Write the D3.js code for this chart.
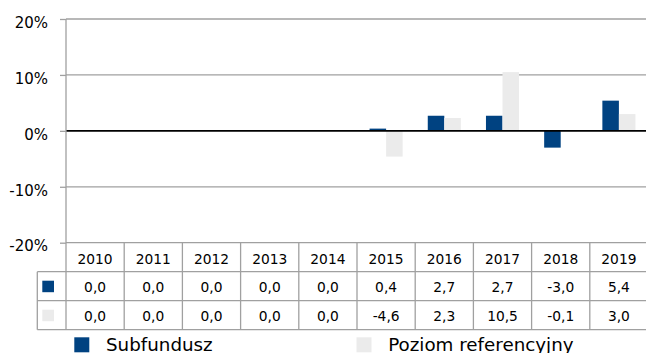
<!DOCTYPE html>
<html>
<head>
<meta charset="utf-8">
<script src="https://cdn.jsdelivr.net/npm/d3@7/dist/d3.min.js"></script>
<style>
  html, body { margin: 0; padding: 0; background: #fff; }
  svg { display: block; }
  text { font-family: "DejaVu Sans", sans-serif; fill: #000; }
</style>
</head>
<body>
<svg id="chart" width="646" height="353"></svg>
<script>
// Annual returns (%) by year
const years = ["2010", "2011", "2012", "2013", "2014", "2015", "2016", "2017", "2018", "2019"];
const subfundusz = [0.0, 0.0, 0.0, 0.0, 0.0, 0.4, 2.7, 2.7, -3.0, 5.4];
const poziom = [0.0, 0.0, 0.0, 0.0, 0.0, -4.6, 2.3, 10.5, -0.1, 3.0];
const seriesNames = ["Subfundusz", "Poziom referencyjny"];
const seriesColors = ["#004281", "#ebebeb"];
const yTicks = [-20, -10, 0, 10, 20];

const series = [subfundusz, poziom];
const svg = d3.select("#chart");

const plotLeft = 66, plotRight = 648, plotTop = 19, plotBottom = 242.7;
const rowH = 29;
const tableLeft = 37.3;
const gridColor = "#a0a0a0";
// Polish decimal comma, plain hyphen for negatives
const fmt = v => v.toFixed(1).replace(".", ",");

const x = d3.scaleBand().domain(years).range([plotLeft, plotRight]).padding(0);
const xs = d3.scaleBand().domain(seriesNames).range([0, x.bandwidth()])
  .paddingInner(0).paddingOuter(0.76);
const y = d3.scaleLinear().domain([-20, 20]).range([plotBottom, plotTop]);

// gridlines + y axis labels
const yAxis = d3.axisLeft(y).tickValues(yTicks).tickSize(6).tickPadding(12)
  .tickFormat(d => d + "%");
const gy = svg.append("g").attr("transform", `translate(${plotLeft},0)`).call(yAxis);
gy.select(".domain").remove();
gy.selectAll(".tick line").attr("stroke", gridColor).attr("stroke-width", 1.3);
gy.selectAll(".tick text").attr("font-size", 15).attr("font-family", "DejaVu Sans")
  .attr("dy", "0.55em").attr("fill", "#000");

svg.append("g").selectAll("line").data(yTicks.filter(d => d !== 0)).join("line")
  .attr("x1", plotLeft).attr("x2", plotRight)
  .attr("y1", d => y(d)).attr("y2", d => y(d))
  .attr("stroke", gridColor).attr("stroke-width", 1.3);

// bars
const barG = svg.append("g");
series.forEach((vals, si) => {
  barG.append("g").selectAll("rect").data(vals).join("rect")
    .attr("x", (d, i) => x(years[i]) + xs(seriesNames[si]))
    .attr("width", xs.bandwidth())
    .attr("y", d => y(Math.max(0, d)))
    .attr("height", d => Math.abs(y(d) - y(0)))
    .attr("fill", seriesColors[si]);
});

// zero line
svg.append("line").attr("x1", plotLeft).attr("x2", plotRight)
  .attr("y1", y(0)).attr("y2", y(0)).attr("stroke", "#000").attr("stroke-width", 1.6);

// vertical axis line through the table
svg.append("line").attr("x1", plotLeft).attr("x2", plotLeft)
  .attr("y1", plotTop).attr("y2", plotBottom + 3 * rowH)
  .attr("stroke", gridColor).attr("stroke-width", 1.3);

// data table
const tbl = svg.append("g");
// horizontal row borders
[1, 2, 3].forEach(r => {
  tbl.append("line").attr("x1", tableLeft).attr("x2", plotRight)
    .attr("y1", plotBottom + r * rowH).attr("y2", plotBottom + r * rowH)
    .attr("stroke", gridColor).attr("stroke-width", 1.3);
});
tbl.append("line").attr("x1", tableLeft).attr("x2", tableLeft)
  .attr("y1", plotBottom + rowH).attr("y2", plotBottom + 3 * rowH)
  .attr("stroke", gridColor).attr("stroke-width", 1.3);
// column separators
tbl.selectAll("line.col").data(years.slice(1)).join("line").attr("class", "col")
  .attr("x1", d => x(d)).attr("x2", d => x(d))
  .attr("y1", plotBottom).attr("y2", plotBottom + 3 * rowH)
  .attr("stroke", gridColor).attr("stroke-width", 1.3);

// year header
tbl.selectAll("text.year").data(years).join("text").attr("class", "year")
  .attr("x", d => x(d) + x.bandwidth() / 2)
  .attr("y", plotBottom + 21)
  .attr("text-anchor", "middle").attr("font-size", 13.8)
  .text(d => d);

// value rows
series.forEach((vals, si) => {
  const rowTop = plotBottom + (si + 1) * rowH;
  tbl.append("rect").attr("x", tableLeft + 5).attr("y", rowTop + 9)
    .attr("width", 11.7).attr("height", 11.5).attr("fill", seriesColors[si]);
  tbl.append("g").selectAll("text").data(vals).join("text")
    .attr("x", (d, i) => x(years[i]) + x.bandwidth() / 2)
    .attr("y", rowTop + 20.5)
    .attr("text-anchor", "middle").attr("font-size", 13.8)
    .text(d => fmt(d));
});

// legend
const legendX = [74.3, 356.5];
const leg = svg.append("g");
seriesNames.forEach((name, si) => {
  leg.append("rect").attr("x", legendX[si]).attr("y", 337.3)
    .attr("width", 15).attr("height", 15).attr("fill", seriesColors[si]);
  leg.append("text").attr("x", legendX[si] + 31.7).attr("y", 350.5)
    .attr("font-size", 18.3).text(name);
});
</script>
</body>
</html>
